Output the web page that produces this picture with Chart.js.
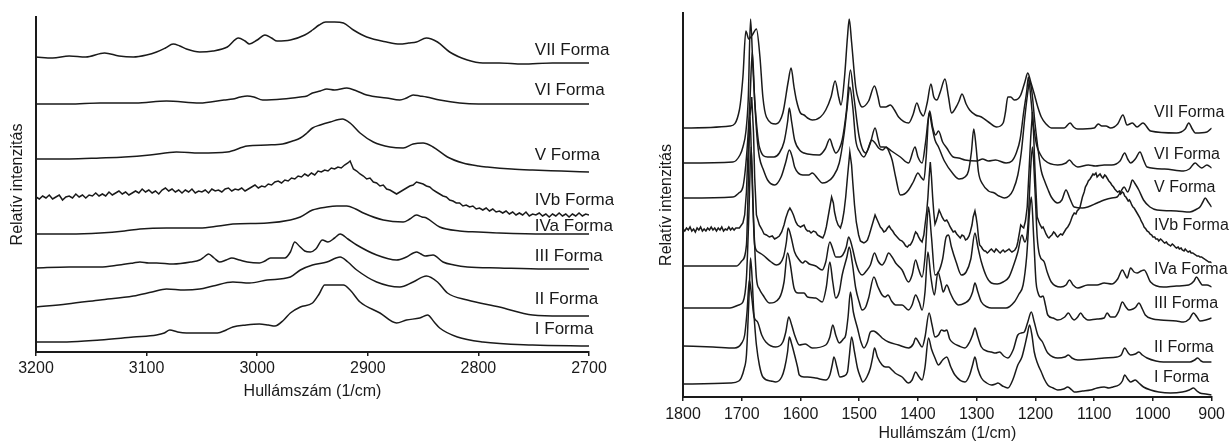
<!DOCTYPE html>
<html>
<head>
<meta charset="utf-8">
<script src="https://cdn.jsdelivr.net/npm/chart.js@4.4.0/dist/chart.umd.min.js"></script>
<style>
  html, body { margin: 0; padding: 0; background: #fff; }
  #wrap { position: relative; width: 1229px; height: 443px; }
  #left { position: absolute; left: 0; top: 0; width: 614px; height: 443px; }
  #right { position: absolute; left: 614px; top: 0; width: 615px; height: 443px; }
</style>
</head>
<body>
<div id="wrap">
  <div id="left"><canvas id="chartL"></canvas></div>
  <div id="right"><canvas id="chartR"></canvas></div>
</div>
<script>
const FONT = "'Liberation Sans', Arial, Helvetica, sans-serif";
const INK = '#1a1a1a';

// names of the forms, top trace first
const formNames = ['VII Forma', 'VI Forma', 'V Forma', 'IVb Forma', 'IVa Forma', 'III Forma', 'II Forma', 'I Forma'];

// ---- left panel: 3200-2700 1/cm ----
const xTitle = 'Hullámszám (1/cm)';
const yTitle = 'Relatív intenzitás';

const VII_L = [[3200,295],[3185,294],[3170,296],[3155,295],[3138,299],[3125,296],[3112,295],[3100,297],[3091,300],[3083,304],[3076,308],[3070,306],[3064,303],[3052,300],[3040,301],[3027,305],[3017,314],[3011,311],[3007,308],[3000,312],[2993,317],[2987,314],[2982,311],[2970,312],[2957,317],[2950,322],[2944,327],[2938,330],[2930,330],[2922,329],[2913,322],[2901,315],[2883,310],[2871,308],[2863,309],[2856,310],[2847,314],[2837,310],[2826,300],[2810,292],[2796,289],[2781,289],[2760,288],[2733,289],[2700,289]];
const VI_L = [[3200,248],[3170,248],[3142,249],[3110,249],[3082,251],[3052,249],[3030,252],[3022,253],[3015,255],[3009,256],[3003,255],[2995,252],[2977,253],[2961,255],[2955,256],[2950,259],[2943,261],[2937,263],[2930,262],[2919,264],[2910,261],[2901,257],[2883,254],[2871,252],[2865,254],[2859,257],[2853,256],[2847,255],[2835,252],[2817,249],[2800,248],[2781,248],[2740,248],[2700,248]];
const V_L = [[3200,193],[3170,193],[3142,194],[3120,195],[3097,197],[3073,200],[3052,199],[3027,200],[3009,206],[2991,207],[2977,208],[2968,211],[2961,214],[2955,219],[2950,224],[2943,227],[2934,230],[2923,233],[2916,229],[2907,219],[2895,210],[2880,205],[2868,204],[2859,208],[2850,209],[2841,205],[2828,195],[2814,189],[2800,186],[2792,185],[2770,183],[2751,182],[2725,181],[2700,180]];
const IVb_L = [[3200,155],[3197,153],[3194,156],[3191,154],[3188,157],[3185,153],[3182,155],[3179,157],[3176,152],[3173,155],[3170,156],[3167,154],[3164,158],[3161,155],[3158,157],[3155,154],[3152,157],[3149,156],[3146,159],[3143,156],[3140,158],[3137,156],[3134,160],[3131,157],[3128,159],[3125,161],[3122,158],[3119,160],[3116,157],[3113,159],[3110,161],[3107,159],[3104,163],[3101,160],[3098,162],[3095,159],[3092,161],[3089,158],[3086,162],[3083,164],[3080,161],[3077,163],[3074,160],[3071,162],[3068,159],[3065,162],[3062,160],[3059,163],[3056,159],[3053,161],[3050,160],[3047,162],[3044,159],[3041,163],[3038,161],[3035,162],[3032,160],[3029,163],[3026,164],[3023,161],[3020,163],[3017,162],[3014,164],[3011,161],[3008,163],[3005,165],[3002,167],[2999,164],[2996,166],[2993,165],[2990,168],[2987,167],[2984,170],[2981,171],[2978,169],[2975,172],[2972,171],[2969,174],[2966,173],[2963,176],[2960,175],[2957,178],[2954,176],[2951,179],[2948,177],[2945,181],[2942,180],[2939,182],[2936,181],[2933,184],[2930,183],[2927,185],[2924,184],[2921,187],[2918,189],[2916,191],[2913,183],[2910,181],[2907,178],[2904,176],[2901,173],[2898,174],[2895,170],[2892,169],[2889,166],[2886,167],[2883,163],[2880,162],[2877,160],[2874,158],[2871,160],[2868,162],[2865,164],[2862,166],[2859,167],[2856,170],[2853,169],[2850,168],[2847,166],[2844,165],[2841,162],[2838,160],[2835,158],[2832,156],[2829,155],[2826,152],[2823,151],[2820,149],[2817,149],[2814,146],[2811,147],[2808,145],[2805,146],[2802,143],[2799,144],[2796,142],[2793,144],[2790,141],[2787,143],[2784,140],[2781,141],[2778,139],[2775,141],[2772,138],[2769,140],[2766,137],[2763,139],[2760,137],[2757,140],[2754,136],[2751,138],[2748,137],[2745,139],[2742,136],[2739,138],[2736,135],[2733,138],[2730,136],[2727,139],[2724,136],[2721,138],[2718,135],[2715,138],[2712,136],[2709,139],[2706,136],[2703,138],[2700,137]];
const IVa_L = [[3200,118],[3170,118],[3142,119],[3120,121],[3106,123],[3082,124],[3052,124],[3035,126],[3022,128],[2991,129],[2970,132],[2961,135],[2950,142],[2937,145],[2928,146],[2919,146],[2911,143],[2904,139],[2886,132],[2868,130],[2862,133],[2856,137],[2851,135],[2847,134],[2835,125],[2817,121],[2800,120],[2781,119],[2740,118],[2700,118]];
const III_L = [[3200,84],[3170,85],[3142,85],[3125,87],[3112,89],[3106,90],[3098,89],[3091,89],[3076,88],[3060,90],[3052,92],[3048,95],[3044,98],[3039,94],[3034,90],[3028,92],[3023,94],[3016,92],[3009,90],[2998,89],[2993,91],[2988,94],[2980,94],[2975,94],[2970,100],[2966,110],[2962,106],[2957,101],[2952,100],[2947,103],[2941,112],[2936,110],[2930,114],[2925,118],[2918,113],[2910,107],[2892,97],[2874,92],[2865,95],[2856,100],[2852,98],[2848,96],[2841,97],[2832,90],[2822,87],[2810,85],[2781,84],[2740,83],[2700,83]];
const II_L = [[3200,45],[3172,48],[3142,52],[3112,56],[3095,60],[3082,63],[3066,62],[3052,63],[3040,66],[3022,70],[3007,69],[2991,72],[2970,75],[2961,82],[2950,87],[2937,90],[2925,95],[2918,90],[2910,82],[2892,70],[2871,65],[2859,70],[2847,76],[2837,70],[2828,59],[2810,52],[2781,45],[2751,37],[2725,36],[2700,36]];
const I_L = [[3200,10],[3172,10],[3142,12],[3112,15],[3091,17],[3084,19],[3079,22],[3072,20],[3064,19],[3036,19],[3028,22],[3022,25],[3010,27],[2998,28],[2990,27],[2984,26],[2976,32],[2970,39],[2961,45],[2950,49],[2944,58],[2939,67],[2930,67],[2922,67],[2916,62],[2907,50],[2889,39],[2874,29],[2865,32],[2853,34],[2846,37],[2840,30],[2835,24],[2819,15],[2796,10],[2751,7],[2700,6]];

const labelXL = 2749;
const labelYL = [302, 262, 197, 152, 126, 96, 53, 23];

// ---- right panel: 1800-900 1/cm ----
const VII_R = [[1800,269],[1720,271],[1704,287],[1698,320],[1693,366],[1688,358],[1682,362],[1675,368],[1669,340],[1664,300],[1658,280],[1642,273],[1630,284],[1621,315],[1616,329],[1611,310],[1607,297],[1600,284],[1594,282],[1588,279],[1580,277],[1566,280],[1557,287],[1548,300],[1541,316],[1535,300],[1531,292],[1525,320],[1520,360],[1517,378],[1513,355],[1506,310],[1500,295],[1495,290],[1484,296],[1474,311],[1468,300],[1464,290],[1455,290],[1447,292],[1440,287],[1433,280],[1416,274],[1408,283],[1402,294],[1396,285],[1391,281],[1384,295],[1378,313],[1373,300],[1368,297],[1362,305],[1354,318],[1348,300],[1343,284],[1335,290],[1330,296],[1325,303],[1318,293],[1312,287],[1302,282],[1292,280],[1280,275],[1266,270],[1255,274],[1251,285],[1247,300],[1242,300],[1236,297],[1230,298],[1225,302],[1218,315],[1213,324],[1208,315],[1202,303],[1196,290],[1190,280],[1182,273],[1173,269],[1151,269],[1141,274],[1135,270],[1128,268],[1100,269],[1093,273],[1087,271],[1080,271],[1072,269],[1060,273],[1051,282],[1044,272],[1035,274],[1027,270],[1017,274],[1004,266],[960,264],[945,268],[939,274],[933,268],[928,264],[908,265],[900,269]];
const VI_R = [[1800,234],[1715,235],[1703,242],[1698,250],[1693,265],[1689,297],[1685,378],[1681,330],[1678,297],[1674,268],[1670,250],[1656,240],[1645,240],[1636,244],[1628,255],[1622,275],[1619,289],[1615,275],[1610,257],[1600,246],[1594,244],[1588,243],[1568,242],[1558,248],[1550,258],[1545,250],[1540,244],[1534,248],[1529,257],[1522,285],[1515,327],[1509,300],[1500,260],[1489,244],[1481,254],[1473,269],[1468,258],[1464,250],[1458,250],[1452,249],[1445,246],[1430,240],[1416,234],[1405,250],[1400,240],[1393,234],[1387,255],[1380,286],[1375,270],[1370,262],[1365,266],[1358,255],[1351,249],[1340,240],[1331,239],[1320,237],[1300,236],[1290,238],[1280,236],[1268,237],[1250,234],[1240,236],[1232,245],[1226,258],[1220,285],[1215,305],[1212,320],[1208,300],[1204,275],[1198,252],[1192,243],[1185,237],[1162,232],[1148,234],[1142,237],[1136,233],[1128,230],[1110,232],[1098,231],[1083,232],[1070,232],[1056,236],[1048,244],[1043,238],[1038,234],[1030,238],[1022,245],[1016,237],[1010,230],[980,228],[948,226],[938,228],[928,234],[922,231],[917,229],[908,232],[900,229]];
const V_R = [[1800,199],[1715,200],[1705,204],[1698,210],[1691,247],[1686,297],[1682,345],[1678,297],[1674,260],[1670,240],[1663,227],[1656,217],[1644,212],[1633,220],[1625,235],[1619,247],[1614,240],[1610,230],[1596,222],[1586,222],[1580,224],[1570,218],[1563,214],[1555,215],[1545,220],[1534,234],[1526,262],[1521,287],[1516,310],[1511,290],[1506,257],[1499,245],[1492,240],[1485,248],[1479,257],[1473,254],[1467,249],[1460,247],[1454,250],[1449,245],[1444,237],[1438,220],[1430,202],[1423,203],[1416,207],[1408,215],[1400,224],[1395,220],[1390,217],[1386,240],[1381,284],[1376,270],[1371,257],[1365,250],[1355,236],[1340,223],[1330,218],[1320,220],[1314,226],[1309,245],[1305,268],[1301,250],[1297,225],[1290,213],[1280,206],[1270,204],[1262,201],[1253,199],[1245,201],[1238,207],[1230,222],[1224,245],[1218,280],[1213,305],[1210,316],[1206,305],[1201,275],[1195,245],[1190,226],[1185,217],[1179,208],[1173,200],[1162,194],[1155,197],[1148,207],[1141,198],[1134,190],[1120,189],[1111,190],[1095,194],[1083,197],[1070,199],[1061,200],[1055,205],[1049,210],[1043,205],[1039,210],[1035,217],[1030,213],[1024,207],[1016,197],[1005,190],[993,187],[960,186],[937,185],[925,188],[920,190],[915,195],[911,199],[906,195],[900,190]];
const IVb_R = [[1800,168],[1797,166],[1794,169],[1791,167],[1788,170],[1785,166],[1782,168],[1779,165],[1776,169],[1773,167],[1770,170],[1767,166],[1764,168],[1761,166],[1758,169],[1755,167],[1752,170],[1749,167],[1746,169],[1743,166],[1740,169],[1737,167],[1734,170],[1731,166],[1728,168],[1725,167],[1722,170],[1719,167],[1716,169],[1713,167],[1710,169],[1704,169],[1698,174],[1695,182],[1692,205],[1690,235],[1686,280],[1683,300],[1680,265],[1678,220],[1675,182],[1670,172],[1666,168],[1662,163],[1658,162],[1653,160],[1648,161],[1644,158],[1641,159],[1636,161],[1632,165],[1628,172],[1625,179],[1621,186],[1618,189],[1615,186],[1612,182],[1608,175],[1605,172],[1600,170],[1594,172],[1591,168],[1588,166],[1585,166],[1582,164],[1578,166],[1574,165],[1571,162],[1568,161],[1565,160],[1562,159],[1559,163],[1556,170],[1553,180],[1550,190],[1547,200],[1544,194],[1542,185],[1539,177],[1536,172],[1532,169],[1529,175],[1526,185],[1523,200],[1520,220],[1516,245],[1513,232],[1511,215],[1508,192],[1505,175],[1501,162],[1498,156],[1495,155],[1492,154],[1489,155],[1486,157],[1483,162],[1480,168],[1476,176],[1473,182],[1470,178],[1467,174],[1464,170],[1461,168],[1458,165],[1455,166],[1452,169],[1449,171],[1446,168],[1443,166],[1440,163],[1437,161],[1434,159],[1431,157],[1427,156],[1424,154],[1421,151],[1418,150],[1415,152],[1413,152],[1410,155],[1408,158],[1406,162],[1404,165],[1401,163],[1399,160],[1396,157],[1393,155],[1390,162],[1388,172],[1385,186],[1383,200],[1381,220],[1379,235],[1377,220],[1375,200],[1373,184],[1371,173],[1369,176],[1367,180],[1364,187],[1361,183],[1359,180],[1356,177],[1354,176],[1351,177],[1348,174],[1346,171],[1343,168],[1340,165],[1337,166],[1334,163],[1331,161],[1328,159],[1325,162],[1322,161],[1319,157],[1316,158],[1313,161],[1311,165],[1308,172],[1306,180],[1303,186],[1301,180],[1299,172],[1297,160],[1295,152],[1292,150],[1290,148],[1287,146],[1285,146],[1282,144],[1280,145],[1277,147],[1275,148],[1272,146],[1270,145],[1267,148],[1265,147],[1262,145],[1260,144],[1257,146],[1255,147],[1252,145],[1250,146],[1247,147],[1245,148],[1242,146],[1240,145],[1237,146],[1235,147],[1232,150],[1230,155],[1227,165],[1225,172],[1222,170],[1220,169],[1217,176],[1214,190],[1211,225],[1208,260],[1205,285],[1203,262],[1201,230],[1199,205],[1197,180],[1194,175],[1192,172],[1189,169],[1187,170],[1184,166],[1182,163],[1179,160],[1177,159],[1174,161],[1172,162],[1169,165],[1167,164],[1164,161],[1162,160],[1159,162],[1157,163],[1154,162],[1151,165],[1148,168],[1145,170],[1142,173],[1140,176],[1137,181],[1134,184],[1131,183],[1129,186],[1126,188],[1124,190],[1122,195],[1120,200],[1117,205],[1115,210],[1112,213],[1110,216],[1107,218],[1105,220],[1102,223],[1100,222],[1097,224],[1095,220],[1092,222],[1090,223],[1087,220],[1085,219],[1082,222],[1080,221],[1077,218],[1075,216],[1072,214],[1070,212],[1067,210],[1065,208],[1062,206],[1060,205],[1057,206],[1055,203],[1052,205],[1050,204],[1048,201],[1046,200],[1044,198],[1042,196],[1040,197],[1038,195],[1036,192],[1034,190],[1032,189],[1030,187],[1027,184],[1025,182],[1022,179],[1020,176],[1017,173],[1015,170],[1012,168],[1010,166],[1007,165],[1005,163],[1002,162],[1000,160],[997,160],[995,158],[992,158],[990,156],[987,158],[985,157],[982,155],[980,154],[977,155],[975,153],[972,152],[970,151],[967,153],[965,152],[962,150],[960,149],[957,150],[955,148],[952,149],[950,147],[947,146],[945,148],[942,146],[940,145],[937,146],[935,144],[932,144],[930,143],[927,142],[925,141],[922,141],[920,140],[917,140],[915,139],[912,138],[910,137],[907,136],[905,135],[902,135],[900,134]];
const IVa_R = [[1800,131],[1709,131],[1700,136],[1692,152],[1689,210],[1686,280],[1683,230],[1680,175],[1678,152],[1672,145],[1664,142],[1650,135],[1641,132],[1629,140],[1624,155],[1621,169],[1616,160],[1610,145],[1602,137],[1596,134],[1592,136],[1585,133],[1574,131],[1563,127],[1557,135],[1550,155],[1545,148],[1540,140],[1533,140],[1528,142],[1522,150],[1518,160],[1512,150],[1506,135],[1500,125],[1495,122],[1488,126],[1481,132],[1474,144],[1468,136],[1461,132],[1456,136],[1450,144],[1444,140],[1438,134],[1427,127],[1416,115],[1410,122],[1404,137],[1399,128],[1393,120],[1388,140],[1382,190],[1377,160],[1371,122],[1365,125],[1358,138],[1352,160],[1348,162],[1343,150],[1335,135],[1326,122],[1318,125],[1310,138],[1303,164],[1298,150],[1292,135],[1283,120],[1275,114],[1265,113],[1255,115],[1245,120],[1237,132],[1230,145],[1223,162],[1218,155],[1213,170],[1208,230],[1205,250],[1201,210],[1197,160],[1193,142],[1185,135],[1180,125],[1173,115],[1157,110],[1148,112],[1142,117],[1136,112],[1128,109],[1111,112],[1095,112],[1083,114],[1070,113],[1060,118],[1052,127],[1047,122],[1044,119],[1038,129],[1032,125],[1027,124],[1020,126],[1015,127],[1004,115],[982,110],[960,111],[939,112],[930,116],[926,120],[920,115],[916,112],[908,112],[900,110]];
const III_R = [[1800,89],[1720,89],[1705,92],[1698,95],[1692,119],[1688,180],[1684,250],[1680,180],[1675,119],[1670,108],[1664,102],[1653,94],[1636,99],[1628,115],[1622,144],[1618,135],[1611,109],[1604,104],[1594,104],[1588,100],[1574,99],[1563,95],[1556,110],[1550,135],[1545,115],[1540,99],[1534,105],[1529,122],[1521,140],[1517,150],[1512,135],[1506,109],[1500,95],[1495,87],[1489,90],[1484,99],[1475,120],[1468,110],[1461,102],[1456,100],[1451,102],[1445,96],[1438,92],[1427,92],[1416,87],[1410,92],[1404,102],[1398,95],[1393,87],[1388,105],[1383,145],[1378,120],[1372,102],[1366,125],[1361,115],[1357,105],[1351,112],[1345,104],[1338,96],[1331,92],[1320,94],[1312,98],[1307,105],[1303,114],[1298,105],[1292,95],[1282,90],[1275,89],[1262,89],[1250,89],[1236,95],[1228,103],[1221,112],[1215,140],[1210,185],[1207,200],[1203,160],[1199,115],[1196,105],[1191,100],[1187,101],[1183,92],[1179,82],[1170,79],[1162,77],[1150,80],[1144,84],[1138,79],[1134,77],[1128,80],[1123,84],[1118,80],[1111,77],[1095,78],[1083,79],[1078,84],[1072,80],[1065,80],[1058,86],[1052,95],[1046,90],[1041,87],[1034,88],[1029,90],[1024,94],[1018,88],[1013,82],[1000,78],[987,77],[960,76],[948,75],[938,78],[931,84],[925,80],[920,76],[910,77],[900,79]];
const II_R = [[1800,51],[1749,50],[1712,49],[1700,54],[1695,62],[1691,85],[1687,117],[1683,100],[1679,80],[1673,75],[1666,62],[1659,55],[1642,50],[1630,55],[1625,65],[1620,80],[1615,72],[1610,62],[1602,52],[1592,53],[1580,49],[1557,52],[1550,60],[1545,72],[1540,62],[1534,54],[1527,58],[1523,62],[1519,80],[1515,105],[1510,85],[1503,69],[1497,55],[1492,49],[1486,55],[1481,65],[1476,66],[1472,65],[1466,62],[1461,59],[1450,55],[1433,52],[1416,49],[1408,53],[1404,59],[1398,54],[1393,50],[1388,60],[1381,84],[1376,72],[1371,60],[1365,62],[1360,67],[1355,66],[1351,67],[1346,58],[1340,54],[1330,51],[1320,49],[1312,55],[1307,62],[1303,69],[1298,60],[1292,50],[1283,46],[1275,45],[1268,44],[1261,45],[1254,41],[1247,39],[1238,47],[1230,62],[1224,64],[1219,65],[1213,75],[1207,85],[1202,75],[1196,62],[1192,58],[1188,55],[1182,47],[1179,44],[1170,40],[1162,39],[1150,40],[1144,42],[1138,39],[1128,37],[1100,38],[1083,39],[1061,40],[1054,42],[1048,49],[1042,44],[1038,42],[1030,43],[1024,45],[1018,42],[1010,39],[995,36],[982,35],[937,35],[929,37],[924,39],[918,36],[914,35],[900,35]];
const I_R = [[1800,13],[1720,14],[1705,16],[1701,19],[1696,28],[1692,42],[1689,80],[1687,110],[1685,139],[1682,115],[1680,90],[1677,65],[1675,52],[1670,32],[1664,20],[1650,16],[1642,15],[1632,20],[1627,29],[1622,45],[1619,60],[1615,53],[1610,42],[1605,30],[1602,22],[1594,20],[1588,20],[1574,19],[1557,17],[1550,22],[1546,32],[1543,40],[1538,30],[1533,20],[1526,21],[1520,25],[1517,40],[1513,60],[1508,45],[1503,29],[1498,20],[1494,15],[1487,20],[1481,29],[1477,40],[1474,49],[1469,40],[1461,32],[1455,30],[1450,30],[1444,27],[1439,24],[1427,20],[1416,14],[1410,17],[1404,25],[1398,20],[1393,17],[1388,30],[1382,59],[1377,48],[1371,39],[1365,32],[1358,37],[1351,40],[1344,30],[1337,22],[1320,15],[1312,22],[1307,32],[1303,40],[1298,28],[1292,19],[1283,14],[1275,12],[1268,13],[1264,14],[1256,11],[1247,9],[1238,18],[1230,32],[1223,40],[1219,49],[1214,62],[1210,72],[1206,62],[1202,45],[1196,33],[1190,25],[1185,18],[1179,12],[1170,9],[1162,7],[1152,8],[1145,10],[1138,7],[1134,5],[1120,6],[1106,7],[1095,9],[1083,10],[1075,9],[1068,10],[1058,12],[1052,16],[1048,22],[1043,18],[1038,15],[1030,17],[1024,14],[1016,10],[1004,7],[990,5],[970,4],[950,5],[938,7],[931,9],[925,6],[920,4],[910,3],[900,2]];

const labelXR = 998;
const labelYR = [284, 242, 209, 171, 127, 93, 49, 19];

Chart.defaults.font.family = FONT;
Chart.defaults.color = INK;

function toPoints(pairs) {
    return pairs.map(p => ({x: p[0], y: p[1]}));
}

function traceSet(pairs, i) {
    // index 3 is the noisy IVb spectrum: keep it jagged
    const noisy = i === 3;
    return {
        data: toPoints(pairs),
        borderColor: INK,
        borderWidth: 1.5,
        pointRadius: 0,
        fill: false,
        tension: 0,
        cubicInterpolationMode: noisy ? 'default' : 'monotone'
    };
}

// writes the "... Forma" names next to the traces
const formLabels = {
    id: 'formLabels',
    afterDatasetsDraw(chart, args, opts) {
        const ctx = chart.ctx;
        const xs = chart.scales.x, ys = chart.scales.y;
        ctx.save();
        ctx.font = opts.size + 'px ' + FONT;
        ctx.fillStyle = INK;
        ctx.textAlign = 'left';
        ctx.textBaseline = 'middle';
        formNames.forEach((name, i) => {
            ctx.fillText(name, xs.getPixelForValue(opts.x), ys.getPixelForValue(opts.y[i]));
        });
        ctx.restore();
    }
};

function makeChart(id, traces, xMin, xMax, yMax, lay) {
    return new Chart(document.getElementById(id), {
        type: 'line',
        data: {datasets: traces.map(traceSet)},
        plugins: [formLabels],
        options: {
            responsive: true,
            maintainAspectRatio: false,
            animation: false,
            layout: {padding: {top: lay.top, right: lay.right, left: 0, bottom: 0}},
            plugins: {
                legend: {display: false},
                tooltip: {enabled: false},
                formLabels: {x: lay.labelX, y: lay.labelY, size: lay.labelSize}
            },
            scales: {
                x: {
                    type: 'linear',
                    min: xMin,
                    max: xMax,
                    reverse: true,
                    ticks: {stepSize: 100, font: {size: 16}, color: INK, padding: lay.tickPad,
                        callback: v => String(v)},
                    grid: {display: true, drawOnChartArea: false, drawTicks: true, tickLength: 4,
                        color: INK, lineWidth: 1.5},
                    border: {display: true, color: INK, width: 2},
                    title: {display: true, text: xTitle, font: {size: 16}, color: INK,
                        padding: {top: 0, bottom: lay.xTitlePad}},
                    afterFit: s => { s.height = lay.xHeight; }
                },
                y: {
                    min: 0,
                    max: yMax,
                    ticks: {display: false},
                    grid: {display: false},
                    border: {display: true, color: INK, width: 2},
                    title: {display: true, text: yTitle, font: {size: 16}, color: INK,
                        padding: {top: lay.yTitlePad, bottom: 0}},
                    afterFit: s => { s.width = lay.yWidth; }
                }
            }
        }
    });
}

makeChart('chartL', [VII_L, VI_L, V_L, IVb_L, IVa_L, III_L, II_L, I_L], 2700, 3200, 335, {
    top: 17, right: 25, xHeight: 91, yWidth: 36, xTitlePad: 42, yTitlePad: 8, tickPad: 3,
    labelX: labelXL, labelY: labelYL, labelSize: 17
});

makeChart('chartR', [VII_R, VI_R, V_R, IVb_R, IVa_R, III_R, II_R, I_R], 900, 1800, 384, {
    top: 13, right: 14, xHeight: 46, yWidth: 69, xTitlePad: 0, yTitlePad: 43, tickPad: 4,
    labelX: labelXR, labelY: labelYR, labelSize: 16
});
</script>
</body>
</html>
